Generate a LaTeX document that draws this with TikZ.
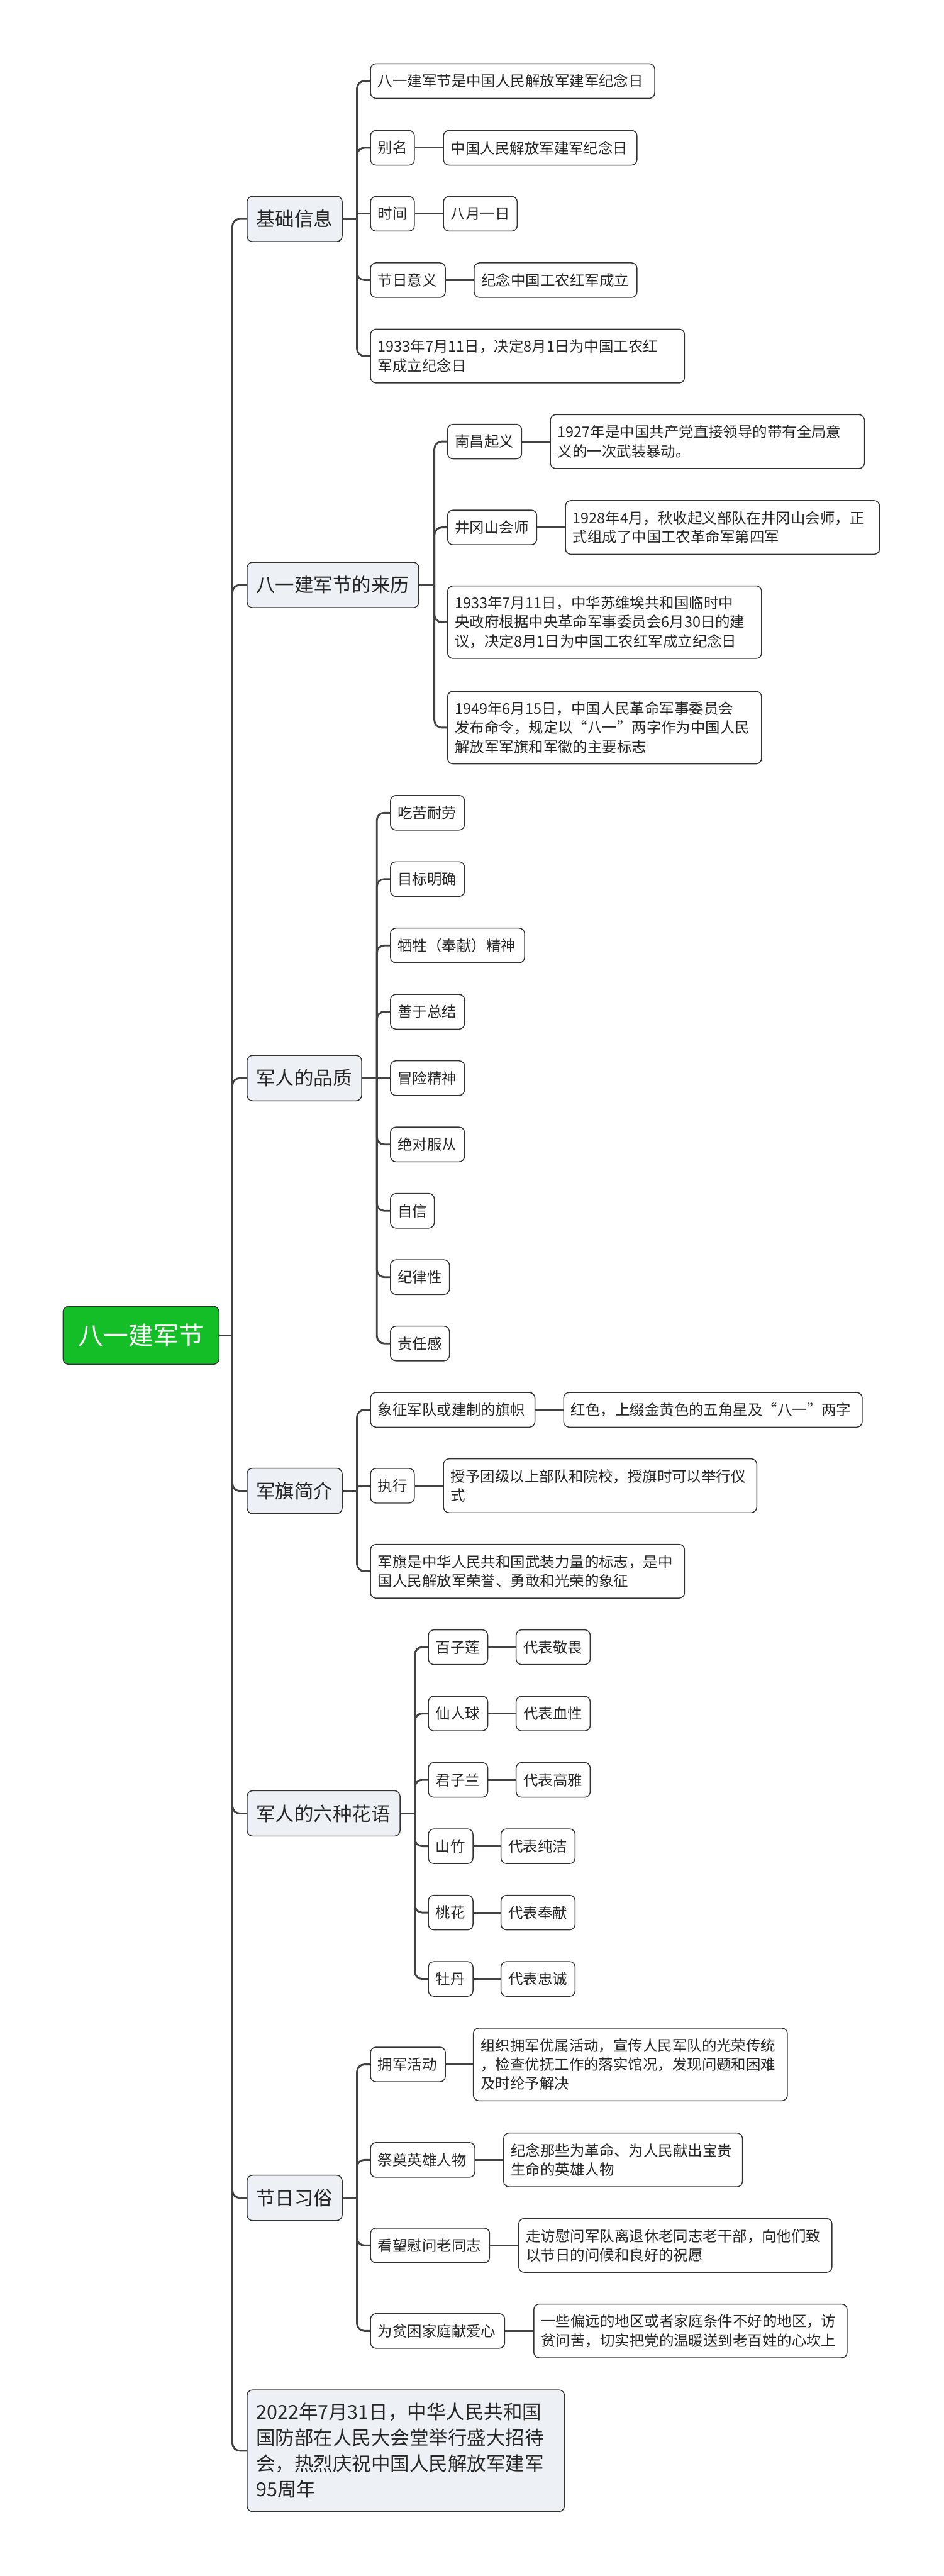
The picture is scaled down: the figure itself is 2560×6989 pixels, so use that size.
\documentclass[tikz,border=0pt]{standalone}
\usepackage{fontspec}
\setmainfont{Noto Sans CJK SC}
\usetikzlibrary{calc}
\definecolor{lineC}{RGB}{66,66,66}
\definecolor{bordC}{RGB}{51,51,51}
\definecolor{textC}{RGB}{38,38,38}
\definecolor{lvOne}{RGB}{237,241,245}
\definecolor{rootC}{RGB}{20,190,38}
\tikzset{
  conn/.style={draw=lineC, line width=5pt},
  rconn/.style={conn, rounded corners=20pt},
  boxbase/.style={draw=bordC, line width=2.5pt, rounded corners=15pt, inner xsep=0pt, inner ysep=0pt, align=left, text=textC},
  lvtwo/.style={boxbase, fill=white, font=\fontsize{40}{52}\selectfont},
  lvone/.style={boxbase, fill=lvOne, font=\fontsize{52}{70}\selectfont},
  rootbox/.style={draw=bordC, line width=2.5pt, rounded corners=15pt, fill=rootC, text=white, font=\fontsize{68}{80}\selectfont, align=center}
}
% #1 pad, #2 style, #3 name, #4 left, #5 right, #6 center y, #7 height, #8 text
\newcommand\mmnode[8][20]{%
  \pgfmathsetmacro\mmw{#5-#4}%
  \pgfmathsetmacro\mmtw{#5-#4-2*#1}%
  \node[#2, anchor=west, minimum width=\mmw pt, minimum height=#7 pt, text width=\mmtw pt] (#3) at (#4,#6) {#8};%
}
\begin{document}
\begin{tikzpicture}[x=1pt,y=-1pt]
\path[fill=white] (0,0) rectangle (2560,6989);
\useasboundingbox (0,0) rectangle (2560,6989);

% root
\node[rootbox, anchor=west, minimum width=423pt, minimum height=157pt] (root) at (170,3623) {八一建军节};

% level one
\mmnode[25]{lvone}{k1}{669}{927}{594}{123}{基础信息}
\mmnode[25]{lvone}{k2}{669}{1135}{1587}{123}{八一建军节的来历}
\mmnode[25]{lvone}{k3}{669}{980}{2925}{123}{军人的品质}
\mmnode[25]{lvone}{k4}{669}{927}{4045}{123}{军旗简介}
\mmnode[25]{lvone}{k5}{669}{1084}{4920}{123}{军人的六种花语}
\mmnode[25]{lvone}{k6}{669}{927}{5963}{123}{节日习俗}
\mmnode[25]{lvone}{k7}{669}{1530}{6649}{330}{2022年7月31日，中华人民共和国\\国防部在人民大会堂举行盛大招待\\会，热烈庆祝中国人民解放军建军\\95周年}

% section 1
\mmnode{lvtwo}{a1}{1004}{1775}{220}{94}{八一建军节是中国人民解放军建军纪念日}
\mmnode{lvtwo}{a2}{1004}{1123}{401}{94}{别名}
\mmnode{lvtwo}{a2x}{1202}{1727}{401}{94}{中国人民解放军建军纪念日}
\mmnode{lvtwo}{a3}{1004}{1123}{580}{94}{时间}
\mmnode{lvtwo}{a3x}{1202}{1402}{580}{94}{八月一日}
\mmnode{lvtwo}{a4}{1004}{1207}{760}{94}{节日意义}
\mmnode{lvtwo}{a4x}{1285}{1727}{760}{94}{纪念中国工农红军成立}
\mmnode{lvtwo}{a5}{1004}{1856}{966}{146}{1933年7月11日，决定8月1日为中国工农红\\军成立纪念日}

% section 2
\mmnode{lvtwo}{b1}{1213}{1414}{1198}{94}{南昌起义}
\mmnode{lvtwo}{b1x}{1492}{2344}{1198}{146}{1927年是中国共产党直接领导的带有全局意\\义的一次武装暴动。}
\mmnode{lvtwo}{b2}{1213}{1455}{1431}{94}{井冈山会师}
\mmnode{lvtwo}{b2x}{1533}{2385}{1431}{146}{1928年4月，秋收起义部队在井冈山会师，正\\式组成了中国工农革命军第四军}
\mmnode{lvtwo}{b3}{1213}{2065}{1688}{197}{1933年7月11日，中华苏维埃共和国临时中\\央政府根据中央革命军事委员会6月30日的建\\议，决定8月1日为中国工农红军成立纪念日}
\mmnode{lvtwo}{b4}{1213}{2065}{1974}{197}{1949年6月15日，中国人民革命军事委员会\\发布命令，规定以“八一”两字作为中国人民\\解放军军旗和军徽的主要标志}

% section 3
\mmnode{lvtwo}{c1}{1058}{1259}{2205}{94}{吃苦耐劳}
\mmnode{lvtwo}{c2}{1058}{1259}{2385}{94}{目标明确}
\mmnode{lvtwo}{c3}{1058}{1422}{2565}{94}{牺牲（奉献）精神}
\mmnode{lvtwo}{c4}{1058}{1259}{2745}{94}{善于总结}
\mmnode{lvtwo}{c5}{1058}{1259}{2925}{94}{冒险精神}
\mmnode{lvtwo}{c6}{1058}{1259}{3105}{94}{绝对服从}
\mmnode{lvtwo}{c7}{1058}{1177}{3285}{94}{自信}
\mmnode{lvtwo}{c8}{1058}{1218}{3465}{94}{纪律性}
\mmnode{lvtwo}{c9}{1058}{1218}{3645}{94}{责任感}

% section 4
\mmnode{lvtwo}{d1}{1004}{1450}{3825}{94}{象征军队或建制的旗帜}
\mmnode{lvtwo}{d1x}{1528}{2338}{3825}{94}{红色，上缀金黄色的五角星及“八一”两字}
\mmnode{lvtwo}{d2}{1004}{1123}{4031}{94}{执行}
\mmnode{lvtwo}{d2x}{1202}{2052}{4031}{146}{授予团级以上部队和院校，授旗时可以举行仪\\式}
\mmnode{lvtwo}{d3}{1004}{1856}{4263}{146}{军旗是中华人民共和国武装力量的标志，是中\\国人民解放军荣誉、勇敢和光荣的象征}

% section 5
\mmnode{lvtwo}{e1}{1161}{1322}{4469}{94}{百子莲}
\mmnode{lvtwo}{e1x}{1399}{1600}{4469}{94}{代表敬畏}
\mmnode{lvtwo}{e2}{1161}{1322}{4649}{94}{仙人球}
\mmnode{lvtwo}{e2x}{1399}{1600}{4649}{94}{代表血性}
\mmnode{lvtwo}{e3}{1161}{1322}{4829}{94}{君子兰}
\mmnode{lvtwo}{e3x}{1399}{1600}{4829}{94}{代表高雅}
\mmnode{lvtwo}{e4}{1161}{1282}{5009}{94}{山竹}
\mmnode{lvtwo}{e4x}{1358}{1559}{5009}{94}{代表纯洁}
\mmnode{lvtwo}{e5}{1161}{1282}{5189}{94}{桃花}
\mmnode{lvtwo}{e5x}{1358}{1559}{5189}{94}{代表奉献}
\mmnode{lvtwo}{e6}{1161}{1282}{5369}{94}{牡丹}
\mmnode{lvtwo}{e6x}{1358}{1559}{5369}{94}{代表忠诚}

% section 6
\mmnode{lvtwo}{f1}{1004}{1207}{5601}{94}{拥军活动}
\mmnode{lvtwo}{f1x}{1283}{2135}{5601}{197}{组织拥军优属活动，宣传人民军队的光荣传统\\，检查优抚工作的落实馆况，发现问题和困难\\及时纶予解决}
\mmnode{lvtwo}{f2}{1004}{1287}{5860}{94}{祭奠英雄人物}
\mmnode{lvtwo}{f2x}{1365}{2013}{5860}{146}{纪念那些为革命、为人民献出宝贵\\生命的英雄人物}
\mmnode{lvtwo}{f3}{1004}{1327}{6092}{94}{看望慰问老同志}
\mmnode{lvtwo}{f3x}{1406}{2256}{6092}{146}{走访慰问军队离退休老同志老干部，向他们致\\以节日的问候和良好的祝愿}
\mmnode{lvtwo}{f4}{1004}{1368}{6324}{94}{为贫困家庭献爱心}
\mmnode{lvtwo}{f4x}{1447}{2297}{6324}{146}{一些偏远的地区或者家庭条件不好的地区，访\\贫问苦，切实把党的温暖送到老百姓的心坎上}

% ---------- connectors ----------
\begin{scope}[on background layer/.try]
\end{scope}
\draw[conn] (root.east) -- ++(35,0) coordinate (tr);
\foreach \k in {k1,k2,k3,k4,k5,k6,k7} {\draw[rconn] (tr) |- (\k.west);}

\draw[conn] (k1.east) -- ++(39,0) coordinate (s1);
\foreach \c in {a1,a2,a4,a5} {\draw[rconn] (s1) |- (\c.west);}
\draw[conn] (s1) |- (a3.west);
\draw[conn] (a2.east) -- (a2x.west);
\draw[conn] (a3.east) -- (a3x.west);
\draw[conn] (a4.east) -- (a4x.west);

\draw[conn] (k2.east) -- ++(41,0) coordinate (s2);
\foreach \c in {b1,b2,b3,b4} {\draw[rconn] (s2) |- (\c.west);}
\draw[conn] (b1.east) -- (b1x.west);
\draw[conn] (b2.east) -- (b2x.west);

\draw[conn] (k3.east) -- ++(40,0) coordinate (s3);
\foreach \c in {c1,c2,c3,c4,c6,c7,c8,c9} {\draw[rconn] (s3) |- (\c.west);}
\draw[conn] (s3) -- (c5.west);

\draw[conn] (k4.east) -- ++(39,0) coordinate (s4);
\foreach \c in {d1,d3} {\draw[rconn] (s4) |- (\c.west);}
\draw[conn] (s4) |- (d2.west);
\draw[conn] (d1.east) -- (d1x.west);
\draw[conn] (d2.east) -- (d2x.west);

\draw[conn] (k5.east) -- ++(39,0) coordinate (s5);
\foreach \c in {e1,e2,e3,e4,e5,e6} {\draw[rconn] (s5) |- (\c.west);}
\foreach \c in {e1,e2,e3,e4,e5,e6} {\draw[conn] (\c.east) -- (\c x.west);}

\draw[conn] (k6.east) -- ++(39,0) coordinate (s6);
\foreach \c in {f1,f2,f3,f4} {\draw[rconn] (s6) |- (\c.west);}
\foreach \c in {f1,f2,f3,f4} {\draw[conn] (\c.east) -- (\c x.west);}
\end{tikzpicture}
\end{document}
